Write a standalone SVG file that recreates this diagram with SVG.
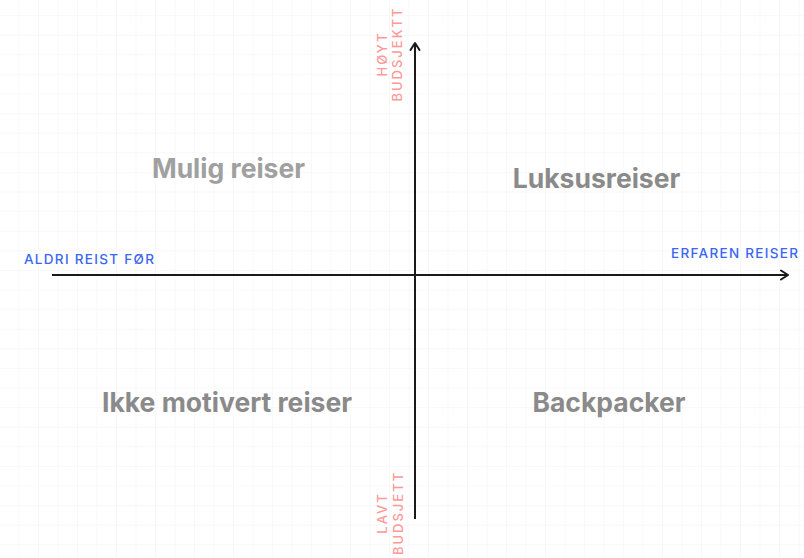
<svg xmlns="http://www.w3.org/2000/svg" width="804" height="558" viewBox="0 0 804 558">
<defs>
<pattern id="grid" x="0" y="-3.5" width="19.5" height="19.6" patternUnits="userSpaceOnUse">
<path d="M19.5 0V19.6M0 19.6H19.5" fill="none" stroke="#f2f2f2" stroke-width="1"/>
</pattern>
<marker id="arr" viewBox="0 0 12 12" refX="10" refY="6" markerWidth="12" markerHeight="12" markerUnits="userSpaceOnUse" orient="auto">
<path d="M3 1.5L10 6L3 10.5" fill="none" stroke="#1a1a1a" stroke-width="2" stroke-linecap="round" stroke-linejoin="round"/>
</marker>
<style>
.ax{stroke:#1a1a1a;stroke-width:2;fill:none}
.pink{font-family:Inter,"DejaVu Sans",sans-serif;font-size:13px;font-weight:500;fill:#ff9999;letter-spacing:2px;text-anchor:middle}
.blue{font-family:Inter,"DejaVu Sans",sans-serif;font-size:13.5px;font-weight:500;fill:#3a66f5;letter-spacing:1.3px}
.q{font-family:Inter,"DejaVu Sans",sans-serif;font-size:26.5px;font-weight:700;fill:#8a8a8a;text-anchor:middle}
</style>
</defs>
<rect width="804" height="558" fill="#ffffff"/>
<rect width="804" height="558" fill="url(#grid)"/>
<g id="connectors">
<line class="ax" x1="52" y1="275" x2="788" y2="275" marker-end="url(#arr)"/>
<line class="ax" x1="415" y1="519" x2="415" y2="43" marker-end="url(#arr)"/>
</g>
<g id="top-label">
<text class="pink" transform="translate(387,54) rotate(-90)">HØYT</text>
<text class="pink" transform="translate(402,54) rotate(-90)">BUDSJEKTT</text>
</g>
<g id="bottom-label">
<text class="pink" transform="translate(387,513) rotate(-90)">LAVT</text>
<text class="pink" transform="translate(403,513) rotate(-90)">BUDSJETT</text>
</g>
<g id="left-label"><text class="blue" x="24" y="264">ALDRI REIST FØR</text></g>
<g id="right-label"><text class="blue" x="671" y="258">ERFAREN REISER</text></g>
<g id="q-mulig"><text class="q" x="228.5" y="178" style="fill:#a0a0a0">Mulig reiser</text></g>
<g id="q-luksus"><text class="q" x="596.5" y="188">Luksusreiser</text></g>
<g id="q-ikke"><text class="q" x="227" y="412">Ikke motivert reiser</text></g>
<g id="q-backpacker"><text class="q" x="609" y="412">Backpacker</text></g>
</svg>
